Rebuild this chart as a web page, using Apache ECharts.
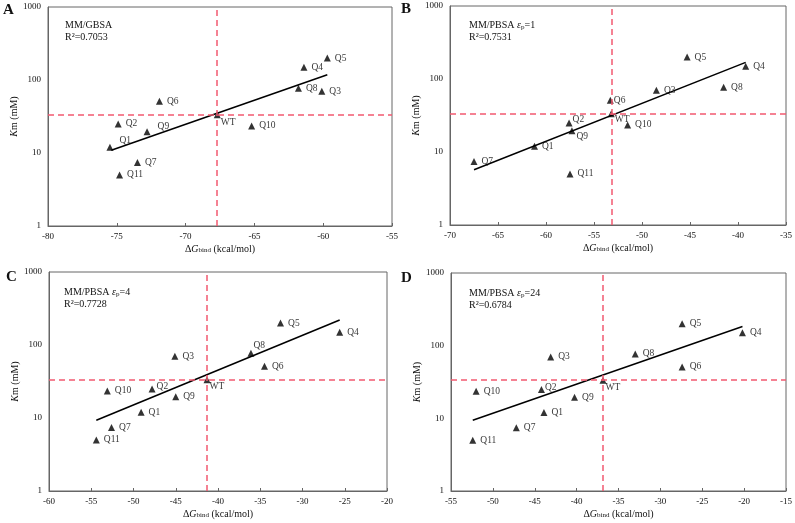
<!DOCTYPE html>
<html>
<head>
<meta charset="utf-8">
<script src="https://cdn.jsdelivr.net/npm/echarts@6/dist/echarts.min.js"></script>
<style>html,body{margin:0;padding:0;background:#fff}#c{width:795px;height:523px}</style>
</head>
<body>
<div id="c"></div>
<script>
// ---- Data ----
const names = ['Q1','Q2','Q3','Q4','Q5','Q6','Q7','Q8','Q9','Q10','Q11','WT'];
const kmValues = [12, 25, 70, 150, 200, 51, 7.4, 77, 19.5, 23.5, 5, 33.5];
const dgA = [-75.5, -74.9, -60.1, -61.4, -59.7, -71.9, -73.5, -61.8, -72.8, -65.2, -74.8, -67.7];
const dgB = [-61.2, -57.6, -48.5, -39.2, -45.3, -53.3, -67.5, -41.5, -57.3, -51.5, -57.5, -53.2];
const dgC = [-49.1, -47.8, -45.1, -25.6, -32.6, -34.5, -52.6, -36.1, -45.0, -53.1, -54.4, -41.3];
const dgD = [-43.9, -44.2, -43.1, -20.2, -27.4, -27.4, -47.2, -33.0, -40.25, -52.0, -52.4, -36.85];
const trendAx = [-75.4, -59.7], trendAy = [10.9, 118];
const trendBx = [-67.5, -39.2], trendBy = [5.7, 169];
const trendCx = [-54.4, -25.6], trendCy = [9.3, 220];
const trendDx = [-52.4, -20.2], trendDy = [9.4, 184];
const xMin = [-80, -70, -60, -55];
const xMax = [-55, -35, -20, -15];
const yTicks = [1, 10, 100, 1000];
const panelLetters = ['A', 'B', 'C', 'D'];
const methods = ['{n|MM/GBSA}', '{n|MM/PBSA }{i|ε}{s|p}{n|=1}', '{n|MM/PBSA }{i|ε}{s|p}{n|=4}', '{n|MM/PBSA }{i|ε}{s|p}{n|=24}'];
const r2 = ['0.7053', '0.7531', '0.7728', '0.6784'];

// ---- Layout / style ----
const grids = [
  {left: 48, top: 7, width: 344, height: 219},
  {left: 450, top: 6, width: 337, height: 219},
  {left: 49, top: 272, width: 338, height: 219},
  {left: 451, top: 273, width: 337, height: 218}
];
const letterPos = [[3, 3], [401, 2], [6, 270], [401, 271]];
const notePos = [[65, 19], [469, 19], [64, 286], [469, 287]];
const labelOffsets = [
  {Q1: [2, -7], Q9: [3, -5], WT: [-4, 8]},
  {Q9: [-3, 6], WT: [-4, 6], Q6: [-4, 0], Q2: [-4, -3]},
  {Q8: [-5, -8], Q2: [-3, -2], WT: [-5, 7]},
  {Q2: [-4, -2], WT: [-5, 7]}
];
const FONT = '"Liberation Serif", "Times New Roman", serif';
const RED = '#f25a70';
const TXT = '#111';

const dgs = [dgA, dgB, dgC, dgD];
const trends = [[trendAx, trendAy], [trendBx, trendBy], [trendCx, trendCy], [trendDx, trendDy]];

const richBase = {
  n: {fontFamily: FONT, fontSize: 10, color: TXT, fontWeight: 'normal'},
  i: {fontFamily: FONT, fontSize: 10, color: TXT, fontStyle: 'italic', fontWeight: 'normal'},
  s: {fontFamily: FONT, fontSize: 7, color: TXT, verticalAlign: 'bottom', lineHeight: 6, fontWeight: 'normal'}
};

const option = {
  animation: false,
  backgroundColor: '#fff',
  grid: grids.map(g => Object.assign({show: true, borderColor: '#666', borderWidth: 1, backgroundColor: 'transparent'}, g)),
  title: [],
  xAxis: [],
  yAxis: [],
  series: []
};

for (let p = 0; p < 4; p++) {
  option.title.push({
    text: panelLetters[p], left: letterPos[p][0], top: letterPos[p][1], padding: 0,
    textStyle: {fontFamily: FONT, fontSize: 15, fontWeight: 'bold', color: '#111'}
  });
  option.title.push({
    text: methods[p] + '\n{n|R²=' + r2[p] + '}',
    left: notePos[p][0], top: notePos[p][1], padding: 0,
    textStyle: {fontFamily: FONT, fontSize: 10, color: TXT, fontWeight: 'normal', lineHeight: 12, rich: {
      n: {fontFamily: FONT, fontSize: 10, color: TXT, lineHeight: 12, fontWeight: 'normal'},
      i: {fontFamily: FONT, fontSize: 10, color: TXT, fontStyle: 'italic', lineHeight: 12, fontWeight: 'normal'},
      s: {fontFamily: FONT, fontSize: 7, color: TXT, verticalAlign: 'bottom', lineHeight: 8, fontWeight: 'normal'}
    }}
  });
  option.xAxis.push({
    type: 'value', gridIndex: p, min: xMin[p], max: xMax[p], interval: 5,
    splitLine: {show: false},
    axisLine: {show: true, lineStyle: {color: '#666', width: 1}},
    axisTick: {show: true, inside: true, length: 3, lineStyle: {color: '#666'}},
    axisLabel: {fontFamily: FONT, fontSize: 9, color: TXT, margin: 6},
    name: '{n|Δ}{i|G}{s|bind}{n| (kcal/mol)}',
    nameLocation: 'middle', nameGap: 18,
    nameTextStyle: {fontFamily: FONT, fontSize: 10, color: TXT, rich: richBase}
  });
  option.yAxis.push({
    type: 'log', logBase: 10, gridIndex: p, min: yTicks[0], max: yTicks[yTicks.length - 1],
    splitLine: {show: false},
    axisLine: {show: true, lineStyle: {color: '#666', width: 1}},
    axisTick: {show: false},
    minorTick: {show: false},
    axisLabel: {fontFamily: FONT, fontSize: 9, color: TXT, margin: 7, formatter: v => String(Math.round(v))},
    name: '{i|K}{n|m (mM)}',
    nameLocation: 'middle', nameGap: 26, nameRotate: 90,
    nameTextStyle: {fontFamily: FONT, fontSize: 10, color: TXT, rich: richBase}
  });
  const dg = dgs[p];
  const wt = names.indexOf('WT');
  option.series.push({
    type: 'line', xAxisIndex: p, yAxisIndex: p, data: [], silent: true,
    markLine: {
      symbol: 'none', silent: true, label: {show: false},
      lineStyle: {color: RED, type: [6, 4], width: 1.5},
      data: [{xAxis: dg[wt]}, {yAxis: kmValues[wt]}]
    }
  });
  const t = trends[p];
  option.series.push({
    type: 'line', xAxisIndex: p, yAxisIndex: p, symbol: 'none', silent: true, z: 3,
    lineStyle: {color: '#000', width: 1.5},
    data: t[0].map((x, i) => [x, t[1][i]])
  });
  option.series.push({
    type: 'scatter', xAxisIndex: p, yAxisIndex: p, z: 4,
    symbol: 'triangle', symbolSize: 7,
    itemStyle: {color: '#000'},
    label: {show: true, position: 'right', distance: 4, fontFamily: FONT, fontSize: 9.5, color: '#000',
      formatter: d => d.name},
    data: names.map((n, i) => {
      const item = {name: n, value: [dg[i], kmValues[i]]};
      const off = labelOffsets[p][n];
      if (off) item.label = {offset: off};
      return item;
    })
  });
}

const chart = echarts.init(document.getElementById('c'), null, {renderer: 'canvas'});
chart.setOption(option);
</script>
</body>
</html>
